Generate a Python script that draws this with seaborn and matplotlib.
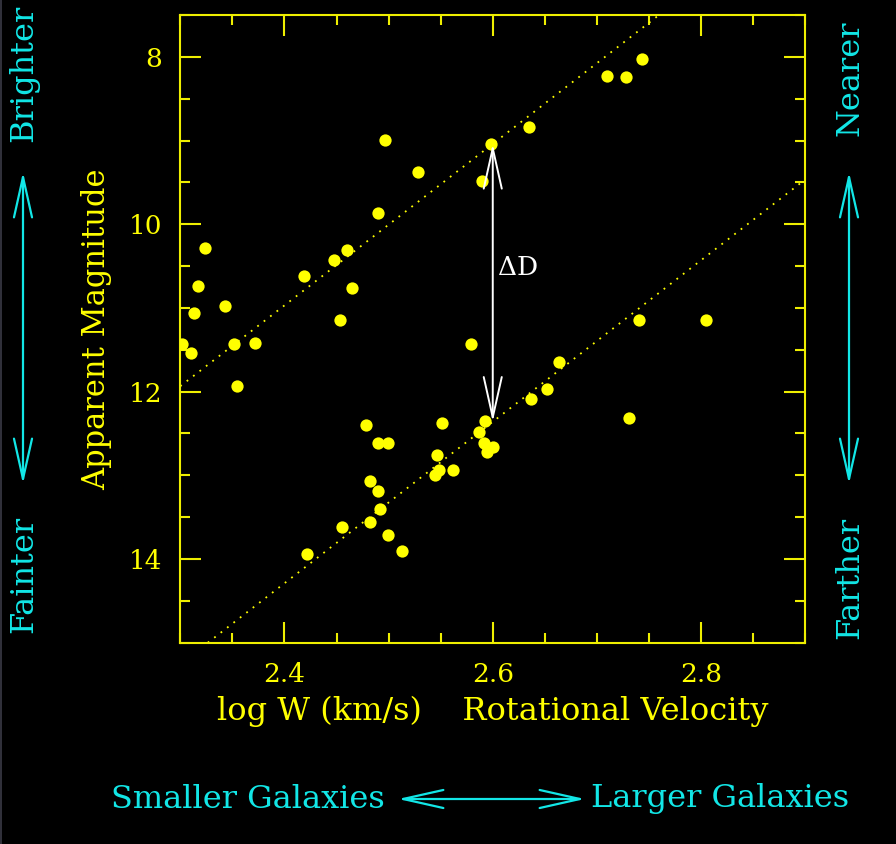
import matplotlib
matplotlib.use("Agg")
import matplotlib.pyplot as plt
from matplotlib.patches import FancyArrowPatch
from matplotlib.lines import Line2D
from matplotlib.ticker import MultipleLocator
import numpy as np
import pandas as pd
import seaborn as sns

# Galaxy sample: log of rotational velocity width and apparent magnitude
log_w = [2.743, 2.710, 2.728, 2.635, 2.4965, 2.598, 2.528, 2.590, 2.490,
         2.3238, 2.4596, 2.448, 2.4187, 2.3173, 2.4648, 2.343, 2.3132, 2.453,
         2.302, 2.3103, 2.3516, 2.3718, 2.3548, 2.579, 2.740, 2.805,
         2.664, 2.652, 2.637, 2.7305, 2.593, 2.587, 2.5914, 2.600, 2.594,
         2.4786, 2.490, 2.4996, 2.551, 2.5465, 2.5482, 2.545, 2.562,
         2.482, 2.490, 2.492, 2.482, 2.455, 2.499, 2.513, 2.4212]
app_mag = [8.02, 8.23, 8.24, 8.84, 8.99, 9.04, 9.38, 9.48, 9.86,
           10.28, 10.31, 10.43, 10.62, 10.74, 10.76, 10.98, 11.06, 11.14,
           11.43, 11.54, 11.43, 11.42, 11.93, 11.43, 11.15, 11.15,
           11.64, 11.97, 12.09, 12.31, 12.35, 12.48, 12.61, 12.66, 12.72,
           12.40, 12.61, 12.61, 12.38, 12.76, 12.94, 13.00, 12.94,
           13.07, 13.19, 13.40, 13.56, 13.62, 13.71, 13.91, 13.94]

# Tully-Fisher relations for the near and far groups (m = a + b log W)
tf_slope = -9.65
tf_near = 34.13
tf_far = 37.45
x_mark = 2.6

x_ticks = [2.4, 2.6, 2.8]
y_ticks = [8, 10, 12, 14]

YEL = "#FFFF00"
AXC = "#EEEE00"
CYN = "#12E6E6"
FONT = ["DejaVu Serif"]

plt.rcParams["font.family"] = FONT
plt.rcParams["figure.facecolor"] = "black"
plt.rcParams["axes.facecolor"] = "black"

fig = plt.figure(figsize=(8.96, 8.44), dpi=100)
ax = fig.add_axes([0.2012, 0.2385, 0.6975, 0.7437])

df = pd.DataFrame({"logW": log_w, "mag": app_mag})
sns.scatterplot(data=df, x="logW", y="mag", ax=ax, color=YEL, s=78,
                linewidth=0, marker="o", zorder=3)

# dotted fit lines
for a in (tf_near, tf_far):
    ax.axline((x_mark, a + tf_slope * x_mark), slope=tf_slope, color=YEL,
              lw=1.3, linestyle=(0, (1, 3.5)), zorder=2)

ax.set_xlim(2.3, 2.9)
ax.set_ylim(15, 7.5)

ax.xaxis.set_major_locator(MultipleLocator(0.2))
ax.xaxis.set_minor_locator(MultipleLocator(0.05))
ax.yaxis.set_major_locator(MultipleLocator(2))
ax.yaxis.set_minor_locator(MultipleLocator(0.5))
ax.set_xticks(x_ticks)
ax.set_yticks(y_ticks)
ax.set_xticklabels([f"{v:.1f}" for v in x_ticks])
ax.set_yticklabels([str(v) for v in y_ticks])

ax.tick_params(which="both", direction="in", top=True, right=True,
               color=AXC, width=1.5, labelcolor=YEL, labelsize=19)
ax.tick_params(which="major", length=15)
ax.tick_params(which="minor", length=7.5)
ax.tick_params(axis="x", pad=14)
ax.tick_params(axis="y", pad=13)
for sp in ax.spines.values():
    sp.set_color(AXC)
    sp.set_linewidth(1.5)

ax.set_xlabel("log W (km/s)    Rotational Velocity", color=YEL, fontsize=23,
              labelpad=6)
ax.set_ylabel("Apparent Magnitude", color=YEL, fontsize=22, labelpad=12)

# distance offset between the two relations
y_top = tf_near + tf_slope * x_mark
y_bot = tf_far + tf_slope * x_mark
ax.add_patch(FancyArrowPatch((x_mark, y_top), (x_mark, y_bot),
                             arrowstyle="<->,head_length=2.9,head_width=0.65",
                             mutation_scale=10, color="white", lw=1.4,
                             shrinkA=0, shrinkB=0, zorder=4))
ax.text(2.6247, 10.52, "\u0394D", color="white", fontsize=19,
        ha="center", va="center", zorder=5)

# explanatory arrows around the plot
W, H = 896.0, 844.0


def fx(px):
    return px / W


def fy(py):
    return 1 - py / H


for (x0, y0), (x1, y1) in [((23, 172), (23, 484)),
                           ((849, 172), (849, 484)),
                           ((398, 799), (585, 799))]:
    fig.add_artist(FancyArrowPatch((fx(x0), fy(y0)), (fx(x1), fy(y1)),
                                   transform=fig.transFigure,
                                   arrowstyle="<->,head_length=2.9,head_width=0.65",
                                   mutation_scale=10, color=CYN, lw=1.6,
                                   shrinkA=0, shrinkB=0))

txt = dict(color=CYN, fontsize=23, ha="center", va="center")
fig.text(fx(24), fy(73), "Brighter", rotation=90, **txt)
fig.text(fx(24), fy(574), "Fainter", rotation=90, **txt)
fig.text(fx(850), fy(78), "Nearer", rotation=90, **txt)
fig.text(fx(850), fy(578), "Farther", rotation=90, **txt)
fig.text(fx(248), fy(799), "Smaller Galaxies", **txt)
fig.text(fx(720), fy(799), "Larger Galaxies", **txt)

fig.add_artist(Line2D([0.0008, 0.0008], [0, 1], transform=fig.transFigure,
                      color="#3a3a46", lw=1.2))

fig.savefig("out.png", dpi=100, facecolor="black")
